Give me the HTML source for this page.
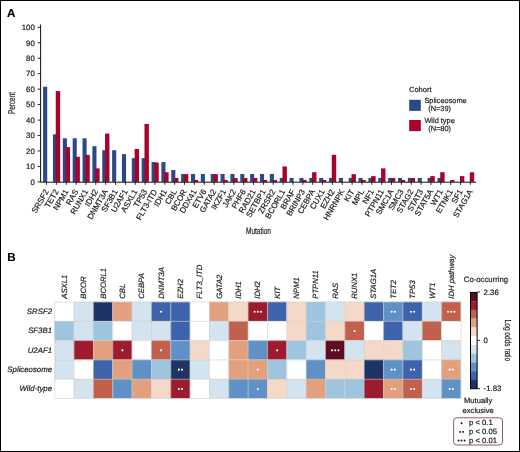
<!DOCTYPE html>
<html><head><meta charset="utf-8"><style>
html,body{margin:0;padding:0;background:#fff;}
svg{display:block;font-family:"Liberation Sans", sans-serif;will-change:transform;text-rendering:geometricPrecision;}
text{fill:#222;stroke:#222;stroke-width:0.2px;}
</style></head><body>
<svg width="520" height="452" viewBox="0 0 520 452">
<rect x="0.5" y="0.5" width="519" height="451" fill="#fff" stroke="#000" stroke-width="1"/>
<text x="7.0" y="16.5" font-size="11.6" font-weight="bold" style="fill:#000;stroke:#000;stroke-width:0.15px">A</text>
<rect x="43.10" y="86.76" width="4.1" height="95.14" fill="#2b4a84"/>
<rect x="52.96" y="134.33" width="4.1" height="47.57" fill="#2b4a84"/>
<rect x="55.76" y="91.07" width="4.4" height="90.83" fill="#a6022c"/>
<rect x="62.82" y="138.29" width="4.1" height="43.61" fill="#2b4a84"/>
<rect x="65.62" y="147.12" width="4.4" height="34.78" fill="#a6022c"/>
<rect x="72.67" y="138.29" width="4.1" height="43.61" fill="#2b4a84"/>
<rect x="75.47" y="156.78" width="4.4" height="25.12" fill="#a6022c"/>
<rect x="82.53" y="138.29" width="4.1" height="43.61" fill="#2b4a84"/>
<rect x="85.33" y="154.84" width="4.4" height="27.06" fill="#a6022c"/>
<rect x="92.39" y="146.22" width="4.1" height="35.68" fill="#2b4a84"/>
<rect x="95.19" y="168.37" width="4.4" height="13.53" fill="#a6022c"/>
<rect x="102.25" y="150.19" width="4.1" height="31.71" fill="#2b4a84"/>
<rect x="105.05" y="133.59" width="4.4" height="48.31" fill="#a6022c"/>
<rect x="112.11" y="150.19" width="4.1" height="31.71" fill="#2b4a84"/>
<rect x="121.96" y="154.15" width="4.1" height="27.75" fill="#2b4a84"/>
<rect x="131.82" y="158.12" width="4.1" height="23.78" fill="#2b4a84"/>
<rect x="134.62" y="149.05" width="4.4" height="32.85" fill="#a6022c"/>
<rect x="141.68" y="158.12" width="4.1" height="23.78" fill="#2b4a84"/>
<rect x="144.48" y="123.93" width="4.4" height="57.97" fill="#a6022c"/>
<rect x="151.54" y="162.08" width="4.1" height="19.82" fill="#2b4a84"/>
<rect x="154.34" y="162.58" width="4.4" height="19.32" fill="#a6022c"/>
<rect x="161.40" y="162.08" width="4.1" height="19.82" fill="#2b4a84"/>
<rect x="164.20" y="172.24" width="4.4" height="9.66" fill="#a6022c"/>
<rect x="171.25" y="170.01" width="4.1" height="11.89" fill="#2b4a84"/>
<rect x="174.05" y="178.03" width="4.4" height="3.87" fill="#a6022c"/>
<rect x="181.11" y="173.97" width="4.1" height="7.93" fill="#2b4a84"/>
<rect x="183.91" y="174.17" width="4.4" height="7.73" fill="#a6022c"/>
<rect x="190.97" y="173.97" width="4.1" height="7.93" fill="#2b4a84"/>
<rect x="193.77" y="179.97" width="4.4" height="1.93" fill="#a6022c"/>
<rect x="200.83" y="173.97" width="4.1" height="7.93" fill="#2b4a84"/>
<rect x="210.69" y="173.97" width="4.1" height="7.93" fill="#2b4a84"/>
<rect x="213.49" y="174.17" width="4.4" height="7.73" fill="#a6022c"/>
<rect x="220.54" y="173.97" width="4.1" height="7.93" fill="#2b4a84"/>
<rect x="223.34" y="179.97" width="4.4" height="1.93" fill="#a6022c"/>
<rect x="230.40" y="173.97" width="4.1" height="7.93" fill="#2b4a84"/>
<rect x="233.20" y="178.03" width="4.4" height="3.87" fill="#a6022c"/>
<rect x="240.26" y="173.97" width="4.1" height="7.93" fill="#2b4a84"/>
<rect x="243.06" y="178.03" width="4.4" height="3.87" fill="#a6022c"/>
<rect x="250.12" y="173.97" width="4.1" height="7.93" fill="#2b4a84"/>
<rect x="252.92" y="178.03" width="4.4" height="3.87" fill="#a6022c"/>
<rect x="259.98" y="173.97" width="4.1" height="7.93" fill="#2b4a84"/>
<rect x="262.78" y="179.97" width="4.4" height="1.93" fill="#a6022c"/>
<rect x="269.83" y="173.97" width="4.1" height="7.93" fill="#2b4a84"/>
<rect x="272.63" y="179.97" width="4.4" height="1.93" fill="#a6022c"/>
<rect x="279.69" y="177.94" width="4.1" height="3.96" fill="#2b4a84"/>
<rect x="282.49" y="166.44" width="4.4" height="15.46" fill="#a6022c"/>
<rect x="289.55" y="177.94" width="4.1" height="3.96" fill="#2b4a84"/>
<rect x="299.41" y="177.94" width="4.1" height="3.96" fill="#2b4a84"/>
<rect x="302.21" y="179.97" width="4.4" height="1.93" fill="#a6022c"/>
<rect x="309.27" y="177.94" width="4.1" height="3.96" fill="#2b4a84"/>
<rect x="312.07" y="172.24" width="4.4" height="9.66" fill="#a6022c"/>
<rect x="319.12" y="177.94" width="4.1" height="3.96" fill="#2b4a84"/>
<rect x="321.92" y="179.97" width="4.4" height="1.93" fill="#a6022c"/>
<rect x="328.98" y="177.94" width="4.1" height="3.96" fill="#2b4a84"/>
<rect x="331.78" y="154.84" width="4.4" height="27.06" fill="#a6022c"/>
<rect x="338.84" y="177.94" width="4.1" height="3.96" fill="#2b4a84"/>
<rect x="348.70" y="177.94" width="4.1" height="3.96" fill="#2b4a84"/>
<rect x="351.50" y="174.17" width="4.4" height="7.73" fill="#a6022c"/>
<rect x="358.56" y="177.94" width="4.1" height="3.96" fill="#2b4a84"/>
<rect x="361.36" y="179.97" width="4.4" height="1.93" fill="#a6022c"/>
<rect x="368.41" y="177.94" width="4.1" height="3.96" fill="#2b4a84"/>
<rect x="371.21" y="176.10" width="4.4" height="5.80" fill="#a6022c"/>
<rect x="378.27" y="177.94" width="4.1" height="3.96" fill="#2b4a84"/>
<rect x="381.07" y="168.37" width="4.4" height="13.53" fill="#a6022c"/>
<rect x="388.13" y="177.94" width="4.1" height="3.96" fill="#2b4a84"/>
<rect x="390.93" y="178.03" width="4.4" height="3.87" fill="#a6022c"/>
<rect x="397.99" y="177.94" width="4.1" height="3.96" fill="#2b4a84"/>
<rect x="400.79" y="179.97" width="4.4" height="1.93" fill="#a6022c"/>
<rect x="407.85" y="177.94" width="4.1" height="3.96" fill="#2b4a84"/>
<rect x="410.65" y="178.03" width="4.4" height="3.87" fill="#a6022c"/>
<rect x="417.70" y="177.94" width="4.1" height="3.96" fill="#2b4a84"/>
<rect x="427.56" y="177.94" width="4.1" height="3.96" fill="#2b4a84"/>
<rect x="430.36" y="176.10" width="4.4" height="5.80" fill="#a6022c"/>
<rect x="437.42" y="177.94" width="4.1" height="3.96" fill="#2b4a84"/>
<rect x="440.22" y="172.24" width="4.4" height="9.66" fill="#a6022c"/>
<rect x="450.08" y="179.97" width="4.4" height="1.93" fill="#a6022c"/>
<rect x="459.94" y="176.10" width="4.4" height="5.80" fill="#a6022c"/>
<rect x="469.79" y="172.24" width="4.4" height="9.66" fill="#a6022c"/>
<path d="M40.6 24.5V182.2H476.2" fill="none" stroke="#111" stroke-width="1"/>
<path d="M37.6 181.90H40.6" stroke="#111" stroke-width="0.9"/>
<text x="34.8" y="184.70" font-size="7.8" text-anchor="end" fill="#222">0</text>
<path d="M37.6 166.44H40.6" stroke="#111" stroke-width="0.9"/>
<text x="34.8" y="169.24" font-size="7.8" text-anchor="end" fill="#222">10</text>
<path d="M37.6 150.98H40.6" stroke="#111" stroke-width="0.9"/>
<text x="34.8" y="153.78" font-size="7.8" text-anchor="end" fill="#222">20</text>
<path d="M37.6 135.52H40.6" stroke="#111" stroke-width="0.9"/>
<text x="34.8" y="138.32" font-size="7.8" text-anchor="end" fill="#222">30</text>
<path d="M37.6 120.06H40.6" stroke="#111" stroke-width="0.9"/>
<text x="34.8" y="122.86" font-size="7.8" text-anchor="end" fill="#222">40</text>
<path d="M37.6 104.60H40.6" stroke="#111" stroke-width="0.9"/>
<text x="34.8" y="107.40" font-size="7.8" text-anchor="end" fill="#222">50</text>
<path d="M37.6 89.14H40.6" stroke="#111" stroke-width="0.9"/>
<text x="34.8" y="91.94" font-size="7.8" text-anchor="end" fill="#222">60</text>
<path d="M37.6 73.68H40.6" stroke="#111" stroke-width="0.9"/>
<text x="34.8" y="76.48" font-size="7.8" text-anchor="end" fill="#222">70</text>
<path d="M37.6 58.22H40.6" stroke="#111" stroke-width="0.9"/>
<text x="34.8" y="61.02" font-size="7.8" text-anchor="end" fill="#222">80</text>
<path d="M37.6 42.76H40.6" stroke="#111" stroke-width="0.9"/>
<text x="34.8" y="45.56" font-size="7.8" text-anchor="end" fill="#222">90</text>
<path d="M37.6 27.30H40.6" stroke="#111" stroke-width="0.9"/>
<text x="34.8" y="30.10" font-size="7.8" text-anchor="end" fill="#222">100</text>
<path d="M46.50 181.9V184.8" stroke="#111" stroke-width="0.9"/>
<text transform="translate(49.00 191.5) rotate(-60)" font-size="8.0" text-anchor="end" fill="#222">SRSF2</text>
<path d="M56.36 181.9V184.8" stroke="#111" stroke-width="0.9"/>
<text transform="translate(58.86 191.5) rotate(-60)" font-size="8.0" text-anchor="end" fill="#222">TET2</text>
<path d="M66.22 181.9V184.8" stroke="#111" stroke-width="0.9"/>
<text transform="translate(68.72 191.5) rotate(-60)" font-size="8.0" text-anchor="end" fill="#222">NPM1</text>
<path d="M76.07 181.9V184.8" stroke="#111" stroke-width="0.9"/>
<text transform="translate(78.57 191.5) rotate(-60)" font-size="8.0" text-anchor="end" fill="#222">RAS</text>
<path d="M85.93 181.9V184.8" stroke="#111" stroke-width="0.9"/>
<text transform="translate(88.43 191.5) rotate(-60)" font-size="8.0" text-anchor="end" fill="#222">RUNX1</text>
<path d="M95.79 181.9V184.8" stroke="#111" stroke-width="0.9"/>
<text transform="translate(98.29 191.5) rotate(-60)" font-size="8.0" text-anchor="end" fill="#222">IDH2</text>
<path d="M105.65 181.9V184.8" stroke="#111" stroke-width="0.9"/>
<text transform="translate(108.15 191.5) rotate(-60)" font-size="8.0" text-anchor="end" fill="#222">DNMT3A</text>
<path d="M115.51 181.9V184.8" stroke="#111" stroke-width="0.9"/>
<text transform="translate(118.01 191.5) rotate(-60)" font-size="8.0" text-anchor="end" fill="#222">SF3B1</text>
<path d="M125.36 181.9V184.8" stroke="#111" stroke-width="0.9"/>
<text transform="translate(127.86 191.5) rotate(-60)" font-size="8.0" text-anchor="end" fill="#222">U2AF1</text>
<path d="M135.22 181.9V184.8" stroke="#111" stroke-width="0.9"/>
<text transform="translate(137.72 191.5) rotate(-60)" font-size="8.0" text-anchor="end" fill="#222">ASXL1</text>
<path d="M145.08 181.9V184.8" stroke="#111" stroke-width="0.9"/>
<text transform="translate(147.58 191.5) rotate(-60)" font-size="8.0" text-anchor="end" fill="#222">TP53</text>
<path d="M154.94 181.9V184.8" stroke="#111" stroke-width="0.9"/>
<text transform="translate(157.44 191.5) rotate(-60)" font-size="8.0" text-anchor="end" fill="#222">FLT3-ITD</text>
<path d="M164.80 181.9V184.8" stroke="#111" stroke-width="0.9"/>
<text transform="translate(167.30 191.5) rotate(-60)" font-size="8.0" text-anchor="end" fill="#222">IDH1</text>
<path d="M174.65 181.9V184.8" stroke="#111" stroke-width="0.9"/>
<text transform="translate(177.15 191.5) rotate(-60)" font-size="8.0" text-anchor="end" fill="#222">CBL</text>
<path d="M184.51 181.9V184.8" stroke="#111" stroke-width="0.9"/>
<text transform="translate(187.01 191.5) rotate(-60)" font-size="8.0" text-anchor="end" fill="#222">BCOR</text>
<path d="M194.37 181.9V184.8" stroke="#111" stroke-width="0.9"/>
<text transform="translate(196.87 191.5) rotate(-60)" font-size="8.0" text-anchor="end" fill="#222">DDX41</text>
<path d="M204.23 181.9V184.8" stroke="#111" stroke-width="0.9"/>
<text transform="translate(206.73 191.5) rotate(-60)" font-size="8.0" text-anchor="end" fill="#222">ETV6</text>
<path d="M214.09 181.9V184.8" stroke="#111" stroke-width="0.9"/>
<text transform="translate(216.59 191.5) rotate(-60)" font-size="8.0" text-anchor="end" fill="#222">GATA2</text>
<path d="M223.94 181.9V184.8" stroke="#111" stroke-width="0.9"/>
<text transform="translate(226.44 191.5) rotate(-60)" font-size="8.0" text-anchor="end" fill="#222">IKZF1</text>
<path d="M233.80 181.9V184.8" stroke="#111" stroke-width="0.9"/>
<text transform="translate(236.30 191.5) rotate(-60)" font-size="8.0" text-anchor="end" fill="#222">JAK2</text>
<path d="M243.66 181.9V184.8" stroke="#111" stroke-width="0.9"/>
<text transform="translate(246.16 191.5) rotate(-60)" font-size="8.0" text-anchor="end" fill="#222">PHF6</text>
<path d="M253.52 181.9V184.8" stroke="#111" stroke-width="0.9"/>
<text transform="translate(256.02 191.5) rotate(-60)" font-size="8.0" text-anchor="end" fill="#222">RAD21</text>
<path d="M263.38 181.9V184.8" stroke="#111" stroke-width="0.9"/>
<text transform="translate(265.88 191.5) rotate(-60)" font-size="8.0" text-anchor="end" fill="#222">SETBP1</text>
<path d="M273.23 181.9V184.8" stroke="#111" stroke-width="0.9"/>
<text transform="translate(275.73 191.5) rotate(-60)" font-size="8.0" text-anchor="end" fill="#222">ZRSR2</text>
<path d="M283.09 181.9V184.8" stroke="#111" stroke-width="0.9"/>
<text transform="translate(285.59 191.5) rotate(-60)" font-size="8.0" text-anchor="end" fill="#222">BCORL1</text>
<path d="M292.95 181.9V184.8" stroke="#111" stroke-width="0.9"/>
<text transform="translate(295.45 191.5) rotate(-60)" font-size="8.0" text-anchor="end" fill="#222">BRAF</text>
<path d="M302.81 181.9V184.8" stroke="#111" stroke-width="0.9"/>
<text transform="translate(305.31 191.5) rotate(-60)" font-size="8.0" text-anchor="end" fill="#222">BRINP3</text>
<path d="M312.67 181.9V184.8" stroke="#111" stroke-width="0.9"/>
<text transform="translate(315.17 191.5) rotate(-60)" font-size="8.0" text-anchor="end" fill="#222">CEBPA</text>
<path d="M322.52 181.9V184.8" stroke="#111" stroke-width="0.9"/>
<text transform="translate(325.02 191.5) rotate(-60)" font-size="8.0" text-anchor="end" fill="#222">CUX1</text>
<path d="M332.38 181.9V184.8" stroke="#111" stroke-width="0.9"/>
<text transform="translate(334.88 191.5) rotate(-60)" font-size="8.0" text-anchor="end" fill="#222">EZH2</text>
<path d="M342.24 181.9V184.8" stroke="#111" stroke-width="0.9"/>
<text transform="translate(344.74 191.5) rotate(-60)" font-size="8.0" text-anchor="end" fill="#222">HNRNPK</text>
<path d="M352.10 181.9V184.8" stroke="#111" stroke-width="0.9"/>
<text transform="translate(354.60 191.5) rotate(-60)" font-size="8.0" text-anchor="end" fill="#222">KIT</text>
<path d="M361.96 181.9V184.8" stroke="#111" stroke-width="0.9"/>
<text transform="translate(364.46 191.5) rotate(-60)" font-size="8.0" text-anchor="end" fill="#222">MPL</text>
<path d="M371.81 181.9V184.8" stroke="#111" stroke-width="0.9"/>
<text transform="translate(374.31 191.5) rotate(-60)" font-size="8.0" text-anchor="end" fill="#222">NF1</text>
<path d="M381.67 181.9V184.8" stroke="#111" stroke-width="0.9"/>
<text transform="translate(384.17 191.5) rotate(-60)" font-size="8.0" text-anchor="end" fill="#222">PTPN11</text>
<path d="M391.53 181.9V184.8" stroke="#111" stroke-width="0.9"/>
<text transform="translate(394.03 191.5) rotate(-60)" font-size="8.0" text-anchor="end" fill="#222">SMC1A</text>
<path d="M401.39 181.9V184.8" stroke="#111" stroke-width="0.9"/>
<text transform="translate(403.89 191.5) rotate(-60)" font-size="8.0" text-anchor="end" fill="#222">SMC3</text>
<path d="M411.25 181.9V184.8" stroke="#111" stroke-width="0.9"/>
<text transform="translate(413.75 191.5) rotate(-60)" font-size="8.0" text-anchor="end" fill="#222">STAG2</text>
<path d="M421.10 181.9V184.8" stroke="#111" stroke-width="0.9"/>
<text transform="translate(423.60 191.5) rotate(-60)" font-size="8.0" text-anchor="end" fill="#222">STAT3</text>
<path d="M430.96 181.9V184.8" stroke="#111" stroke-width="0.9"/>
<text transform="translate(433.46 191.5) rotate(-60)" font-size="8.0" text-anchor="end" fill="#222">STAT5A</text>
<path d="M440.82 181.9V184.8" stroke="#111" stroke-width="0.9"/>
<text transform="translate(443.32 191.5) rotate(-60)" font-size="8.0" text-anchor="end" fill="#222">WT1</text>
<path d="M450.68 181.9V184.8" stroke="#111" stroke-width="0.9"/>
<text transform="translate(453.18 191.5) rotate(-60)" font-size="8.0" text-anchor="end" fill="#222">ETNK1</text>
<path d="M460.54 181.9V184.8" stroke="#111" stroke-width="0.9"/>
<text transform="translate(463.04 191.5) rotate(-60)" font-size="8.0" text-anchor="end" fill="#222">SF1</text>
<path d="M470.39 181.9V184.8" stroke="#111" stroke-width="0.9"/>
<text transform="translate(472.89 191.5) rotate(-60)" font-size="8.0" text-anchor="end" fill="#222">STAG1A</text>
<text transform="translate(15.4 103) rotate(-90) scale(0.65 1)" font-size="9.8" text-anchor="middle" fill="#222">Percent</text>
<text transform="translate(258.5 233.7) scale(0.7 1)" font-size="9.3" text-anchor="middle" fill="#222">Mutation</text>
<text x="409.0" y="91.8" font-size="7.5" fill="#222">Cohort</text>
<rect x="409.2" y="99.8" width="11.6" height="11.1" fill="#2b4a84"/>
<rect x="409.2" y="120" width="11.6" height="11.1" fill="#a6022c"/>
<text x="424.4" y="102.8" font-size="7.4" fill="#222">Spliceosome</text>
<text x="428.2" y="111.1" font-size="7.4" fill="#222">(N=39)</text>
<text x="424.4" y="122.8" font-size="7.4" fill="#222">Wild type</text>
<text x="428.2" y="131.1" font-size="7.4" fill="#222">(N=80)</text>
<text x="7.2" y="261.4" font-size="11.6" font-weight="bold" style="fill:#000;stroke:#000;stroke-width:0.15px">B</text>
<rect x="54.50" y="301.80" width="19.34" height="19.30" fill="#ffffff"/>
<rect x="73.84" y="301.80" width="19.34" height="19.30" fill="#d3e3ef"/>
<rect x="93.19" y="301.80" width="19.34" height="19.30" fill="#1f3366"/>
<rect x="112.53" y="301.80" width="19.34" height="19.30" fill="#e3a07f"/>
<rect x="131.88" y="301.80" width="19.34" height="19.30" fill="#d3e3ef"/>
<rect x="151.22" y="301.80" width="19.34" height="19.30" fill="#3d63ad"/>
<circle cx="161.10" cy="311.75" r="1.05" fill="#fff"/>
<rect x="170.57" y="301.80" width="19.34" height="19.30" fill="#3d63ad"/>
<rect x="189.91" y="301.80" width="19.34" height="19.30" fill="#ffffff"/>
<rect x="209.26" y="301.80" width="19.34" height="19.30" fill="#e3a07f"/>
<rect x="228.60" y="301.80" width="19.34" height="19.30" fill="#f5d9c8"/>
<rect x="247.95" y="301.80" width="19.34" height="19.30" fill="#9e1a2e"/>
<circle cx="254.62" cy="311.75" r="1.05" fill="#fff"/>
<circle cx="257.82" cy="311.75" r="1.05" fill="#fff"/>
<circle cx="261.02" cy="311.75" r="1.05" fill="#fff"/>
<rect x="267.29" y="301.80" width="19.34" height="19.30" fill="#3d63ad"/>
<rect x="286.64" y="301.80" width="19.34" height="19.30" fill="#f5d9c8"/>
<rect x="305.99" y="301.80" width="19.34" height="19.30" fill="#9fc4de"/>
<rect x="325.33" y="301.80" width="19.34" height="19.30" fill="#d3e3ef"/>
<rect x="344.67" y="301.80" width="19.34" height="19.30" fill="#f5d9c8"/>
<rect x="364.02" y="301.80" width="19.34" height="19.30" fill="#3d63ad"/>
<rect x="383.37" y="301.80" width="19.34" height="19.30" fill="#5f91c6"/>
<circle cx="391.64" cy="311.75" r="1.05" fill="#fff"/>
<circle cx="394.84" cy="311.75" r="1.05" fill="#fff"/>
<rect x="402.71" y="301.80" width="19.34" height="19.30" fill="#3d63ad"/>
<circle cx="410.98" cy="311.75" r="1.05" fill="#fff"/>
<circle cx="414.18" cy="311.75" r="1.05" fill="#fff"/>
<rect x="422.05" y="301.80" width="19.34" height="19.30" fill="#d3e3ef"/>
<rect x="441.40" y="301.80" width="19.34" height="19.30" fill="#c2604e"/>
<circle cx="448.07" cy="311.75" r="1.05" fill="#fff"/>
<circle cx="451.27" cy="311.75" r="1.05" fill="#fff"/>
<circle cx="454.47" cy="311.75" r="1.05" fill="#fff"/>
<rect x="54.50" y="321.10" width="19.34" height="19.30" fill="#9fc4de"/>
<rect x="73.84" y="321.10" width="19.34" height="19.30" fill="#d3e3ef"/>
<rect x="93.19" y="321.10" width="19.34" height="19.30" fill="#9fc4de"/>
<rect x="112.53" y="321.10" width="19.34" height="19.30" fill="#ffffff"/>
<rect x="131.88" y="321.10" width="19.34" height="19.30" fill="#d3e3ef"/>
<rect x="151.22" y="321.10" width="19.34" height="19.30" fill="#d3e3ef"/>
<rect x="170.57" y="321.10" width="19.34" height="19.30" fill="#3d63ad"/>
<rect x="189.91" y="321.10" width="19.34" height="19.30" fill="#ffffff"/>
<rect x="209.26" y="321.10" width="19.34" height="19.30" fill="#d3e3ef"/>
<rect x="228.60" y="321.10" width="19.34" height="19.30" fill="#c2604e"/>
<rect x="247.95" y="321.10" width="19.34" height="19.30" fill="#ffffff"/>
<rect x="267.29" y="321.10" width="19.34" height="19.30" fill="#ffffff"/>
<rect x="286.64" y="321.10" width="19.34" height="19.30" fill="#f5d9c8"/>
<rect x="305.99" y="321.10" width="19.34" height="19.30" fill="#9fc4de"/>
<rect x="325.33" y="321.10" width="19.34" height="19.30" fill="#f5d9c8"/>
<rect x="344.67" y="321.10" width="19.34" height="19.30" fill="#c2604e"/>
<circle cx="354.55" cy="331.05" r="1.05" fill="#fff"/>
<rect x="364.02" y="321.10" width="19.34" height="19.30" fill="#ffffff"/>
<rect x="383.37" y="321.10" width="19.34" height="19.30" fill="#3d63ad"/>
<rect x="402.71" y="321.10" width="19.34" height="19.30" fill="#d3e3ef"/>
<rect x="422.05" y="321.10" width="19.34" height="19.30" fill="#c2604e"/>
<rect x="441.40" y="321.10" width="19.34" height="19.30" fill="#ffffff"/>
<rect x="54.50" y="340.40" width="19.34" height="19.30" fill="#d3e3ef"/>
<rect x="73.84" y="340.40" width="19.34" height="19.30" fill="#9e1a2e"/>
<rect x="93.19" y="340.40" width="19.34" height="19.30" fill="#e3a07f"/>
<rect x="112.53" y="340.40" width="19.34" height="19.30" fill="#9e1a2e"/>
<circle cx="122.41" cy="350.35" r="1.05" fill="#fff"/>
<rect x="131.88" y="340.40" width="19.34" height="19.30" fill="#ffffff"/>
<rect x="151.22" y="340.40" width="19.34" height="19.30" fill="#c2604e"/>
<circle cx="161.10" cy="350.35" r="1.05" fill="#fff"/>
<rect x="170.57" y="340.40" width="19.34" height="19.30" fill="#5f91c6"/>
<rect x="189.91" y="340.40" width="19.34" height="19.30" fill="#f5d9c8"/>
<rect x="209.26" y="340.40" width="19.34" height="19.30" fill="#ffffff"/>
<rect x="228.60" y="340.40" width="19.34" height="19.30" fill="#e3a07f"/>
<rect x="247.95" y="340.40" width="19.34" height="19.30" fill="#5f91c6"/>
<rect x="267.29" y="340.40" width="19.34" height="19.30" fill="#9e1a2e"/>
<circle cx="277.17" cy="350.35" r="1.05" fill="#fff"/>
<rect x="286.64" y="340.40" width="19.34" height="19.30" fill="#9fc4de"/>
<rect x="305.99" y="340.40" width="19.34" height="19.30" fill="#d3e3ef"/>
<rect x="325.33" y="340.40" width="19.34" height="19.30" fill="#5e0a1f"/>
<circle cx="332.00" cy="350.35" r="1.05" fill="#fff"/>
<circle cx="335.20" cy="350.35" r="1.05" fill="#fff"/>
<circle cx="338.40" cy="350.35" r="1.05" fill="#fff"/>
<rect x="344.67" y="340.40" width="19.34" height="19.30" fill="#d3e3ef"/>
<rect x="364.02" y="340.40" width="19.34" height="19.30" fill="#f5d9c8"/>
<rect x="383.37" y="340.40" width="19.34" height="19.30" fill="#f5d9c8"/>
<rect x="402.71" y="340.40" width="19.34" height="19.30" fill="#9fc4de"/>
<rect x="422.05" y="340.40" width="19.34" height="19.30" fill="#ffffff"/>
<rect x="441.40" y="340.40" width="19.34" height="19.30" fill="#d3e3ef"/>
<rect x="54.50" y="359.70" width="19.34" height="19.30" fill="#d3e3ef"/>
<rect x="73.84" y="359.70" width="19.34" height="19.30" fill="#ffffff"/>
<rect x="93.19" y="359.70" width="19.34" height="19.30" fill="#3d63ad"/>
<rect x="112.53" y="359.70" width="19.34" height="19.30" fill="#e3a07f"/>
<rect x="131.88" y="359.70" width="19.34" height="19.30" fill="#5f91c6"/>
<rect x="151.22" y="359.70" width="19.34" height="19.30" fill="#9fc4de"/>
<rect x="170.57" y="359.70" width="19.34" height="19.30" fill="#1f3366"/>
<circle cx="178.84" cy="369.65" r="1.05" fill="#fff"/>
<circle cx="182.04" cy="369.65" r="1.05" fill="#fff"/>
<rect x="189.91" y="359.70" width="19.34" height="19.30" fill="#d3e3ef"/>
<rect x="209.26" y="359.70" width="19.34" height="19.30" fill="#ffffff"/>
<rect x="228.60" y="359.70" width="19.34" height="19.30" fill="#e3a07f"/>
<rect x="247.95" y="359.70" width="19.34" height="19.30" fill="#e3a07f"/>
<circle cx="257.82" cy="369.65" r="1.05" fill="#fff"/>
<rect x="267.29" y="359.70" width="19.34" height="19.30" fill="#9fc4de"/>
<rect x="286.64" y="359.70" width="19.34" height="19.30" fill="#ffffff"/>
<rect x="305.99" y="359.70" width="19.34" height="19.30" fill="#5f91c6"/>
<rect x="325.33" y="359.70" width="19.34" height="19.30" fill="#f5d9c8"/>
<rect x="344.67" y="359.70" width="19.34" height="19.30" fill="#f5d9c8"/>
<rect x="364.02" y="359.70" width="19.34" height="19.30" fill="#1f3366"/>
<rect x="383.37" y="359.70" width="19.34" height="19.30" fill="#5f91c6"/>
<circle cx="391.64" cy="369.65" r="1.05" fill="#fff"/>
<circle cx="394.84" cy="369.65" r="1.05" fill="#fff"/>
<rect x="402.71" y="359.70" width="19.34" height="19.30" fill="#3d63ad"/>
<circle cx="410.98" cy="369.65" r="1.05" fill="#fff"/>
<circle cx="414.18" cy="369.65" r="1.05" fill="#fff"/>
<rect x="422.05" y="359.70" width="19.34" height="19.30" fill="#ffffff"/>
<rect x="441.40" y="359.70" width="19.34" height="19.30" fill="#e3a07f"/>
<circle cx="449.67" cy="369.65" r="1.05" fill="#fff"/>
<circle cx="452.87" cy="369.65" r="1.05" fill="#fff"/>
<rect x="54.50" y="379.00" width="19.34" height="19.30" fill="#ffffff"/>
<rect x="73.84" y="379.00" width="19.34" height="19.30" fill="#d3e3ef"/>
<rect x="93.19" y="379.00" width="19.34" height="19.30" fill="#c2604e"/>
<rect x="112.53" y="379.00" width="19.34" height="19.30" fill="#5f91c6"/>
<rect x="131.88" y="379.00" width="19.34" height="19.30" fill="#e3a07f"/>
<rect x="151.22" y="379.00" width="19.34" height="19.30" fill="#f5d9c8"/>
<rect x="170.57" y="379.00" width="19.34" height="19.30" fill="#9e1a2e"/>
<circle cx="178.84" cy="388.95" r="1.05" fill="#fff"/>
<circle cx="182.04" cy="388.95" r="1.05" fill="#fff"/>
<rect x="189.91" y="379.00" width="19.34" height="19.30" fill="#ffffff"/>
<rect x="209.26" y="379.00" width="19.34" height="19.30" fill="#d3e3ef"/>
<rect x="228.60" y="379.00" width="19.34" height="19.30" fill="#5f91c6"/>
<rect x="247.95" y="379.00" width="19.34" height="19.30" fill="#5f91c6"/>
<circle cx="257.82" cy="388.95" r="1.05" fill="#fff"/>
<rect x="267.29" y="379.00" width="19.34" height="19.30" fill="#f5d9c8"/>
<rect x="286.64" y="379.00" width="19.34" height="19.30" fill="#d3e3ef"/>
<rect x="305.99" y="379.00" width="19.34" height="19.30" fill="#e3a07f"/>
<rect x="325.33" y="379.00" width="19.34" height="19.30" fill="#9fc4de"/>
<rect x="344.67" y="379.00" width="19.34" height="19.30" fill="#9fc4de"/>
<rect x="364.02" y="379.00" width="19.34" height="19.30" fill="#9e1a2e"/>
<rect x="383.37" y="379.00" width="19.34" height="19.30" fill="#e3a07f"/>
<circle cx="391.64" cy="388.95" r="1.05" fill="#fff"/>
<circle cx="394.84" cy="388.95" r="1.05" fill="#fff"/>
<rect x="402.71" y="379.00" width="19.34" height="19.30" fill="#c2604e"/>
<circle cx="410.98" cy="388.95" r="1.05" fill="#fff"/>
<circle cx="414.18" cy="388.95" r="1.05" fill="#fff"/>
<rect x="422.05" y="379.00" width="19.34" height="19.30" fill="#d3e3ef"/>
<rect x="441.40" y="379.00" width="19.34" height="19.30" fill="#5f91c6"/>
<circle cx="449.67" cy="388.95" r="1.05" fill="#fff"/>
<circle cx="452.87" cy="388.95" r="1.05" fill="#fff"/>
<path d="M54.75 301.80V398.60M74.09 301.80V398.60M93.44 301.80V398.60M112.78 301.80V398.60M132.13 301.80V398.60M151.47 301.80V398.60M170.82 301.80V398.60M190.16 301.80V398.60M209.51 301.80V398.60M228.85 301.80V398.60M248.20 301.80V398.60M267.54 301.80V398.60M286.89 301.80V398.60M306.24 301.80V398.60M325.58 301.80V398.60M344.92 301.80V398.60M364.27 301.80V398.60M383.62 301.80V398.60M402.96 301.80V398.60M422.30 301.80V398.60M441.65 301.80V398.60M461.00 301.80V398.60M54.50 302.05H461.05M54.50 321.35H461.05M54.50 340.65H461.05M54.50 359.95H461.05M54.50 379.25H461.05M54.50 398.55H461.05" fill="none" stroke="#cdcdcd" stroke-width="0.6"/>
<text transform="translate(66.97 298.7) rotate(-90)" font-size="7.7" font-style="italic" fill="#222">ASXL1</text>
<text transform="translate(86.32 298.7) rotate(-90)" font-size="7.7" font-style="italic" fill="#222">BCOR</text>
<text transform="translate(105.66 298.7) rotate(-90)" font-size="7.7" font-style="italic" fill="#222">BCORL1</text>
<text transform="translate(125.01 298.7) rotate(-90)" font-size="7.7" font-style="italic" fill="#222">CBL</text>
<text transform="translate(144.35 298.7) rotate(-90)" font-size="7.7" font-style="italic" fill="#222">CEBPA</text>
<text transform="translate(163.70 298.7) rotate(-90)" font-size="7.7" font-style="italic" fill="#222">DNMT3A</text>
<text transform="translate(183.04 298.7) rotate(-90)" font-size="7.7" font-style="italic" fill="#222">EZH2</text>
<text transform="translate(202.39 298.7) rotate(-90)" font-size="7.7" font-style="italic" fill="#222">FLT3_ITD</text>
<text transform="translate(221.73 298.7) rotate(-90)" font-size="7.7" font-style="italic" fill="#222">GATA2</text>
<text transform="translate(241.08 298.7) rotate(-90)" font-size="7.7" font-style="italic" fill="#222">IDH1</text>
<text transform="translate(260.42 298.7) rotate(-90)" font-size="7.7" font-style="italic" fill="#222">IDH2</text>
<text transform="translate(279.77 298.7) rotate(-90)" font-size="7.7" font-style="italic" fill="#222">KIT</text>
<text transform="translate(299.11 298.7) rotate(-90)" font-size="7.7" font-style="italic" fill="#222">NPM1</text>
<text transform="translate(318.46 298.7) rotate(-90)" font-size="7.7" font-style="italic" fill="#222">PTPN11</text>
<text transform="translate(337.80 298.7) rotate(-90)" font-size="7.7" font-style="italic" fill="#222">RAS</text>
<text transform="translate(357.15 298.7) rotate(-90)" font-size="7.7" font-style="italic" fill="#222">RUNX1</text>
<text transform="translate(376.49 298.7) rotate(-90)" font-size="7.7" font-style="italic" fill="#222">STAG1A</text>
<text transform="translate(395.84 298.7) rotate(-90)" font-size="7.7" font-style="italic" fill="#222">TET2</text>
<text transform="translate(415.18 298.7) rotate(-90)" font-size="7.7" font-style="italic" fill="#222">TP53</text>
<text transform="translate(434.53 298.7) rotate(-90)" font-size="7.7" font-style="italic" fill="#222">WT1</text>
<text transform="translate(453.87 298.7) rotate(-90)" font-size="7.7" font-style="italic" fill="#222">IDH pathway</text>
<text x="52" y="314.15" font-size="7.8" font-style="italic" text-anchor="end" fill="#222">SRSF2</text>
<text x="52" y="333.45" font-size="7.8" font-style="italic" text-anchor="end" fill="#222">SF3B1</text>
<text x="52" y="352.75" font-size="7.8" font-style="italic" text-anchor="end" fill="#222">U2AF1</text>
<text x="52" y="372.05" font-size="7.8" font-style="italic" text-anchor="end" fill="#222">Spliceosome</text>
<text x="52" y="391.35" font-size="7.8" font-style="italic" text-anchor="end" fill="#222">Wild-type</text>
<rect x="470.5" y="292.40" width="6.6" height="8.80" fill="#5e0a1f"/>
<rect x="470.5" y="301.15" width="6.6" height="8.80" fill="#9e1a2e"/>
<rect x="470.5" y="309.91" width="6.6" height="8.80" fill="#c2604e"/>
<rect x="470.5" y="318.66" width="6.6" height="8.80" fill="#e3a07f"/>
<rect x="470.5" y="327.42" width="6.6" height="8.80" fill="#f5d9c8"/>
<rect x="470.5" y="336.17" width="6.6" height="8.80" fill="#ffffff"/>
<rect x="470.5" y="344.93" width="6.6" height="8.80" fill="#d3e3ef"/>
<rect x="470.5" y="353.68" width="6.6" height="8.80" fill="#9fc4de"/>
<rect x="470.5" y="362.44" width="6.6" height="8.80" fill="#5f91c6"/>
<rect x="470.5" y="371.19" width="6.6" height="8.80" fill="#3d63ad"/>
<rect x="470.5" y="379.95" width="6.6" height="8.80" fill="#1f3366"/>
<rect x="470.5" y="292.40" width="6.6" height="96.30" fill="none" stroke="#000" stroke-width="1"/>
<path d="M477.3 292.0H480" stroke="#111" stroke-width="0.9"/>
<text x="483.6" y="294.5" font-size="7.8" fill="#222">2.36</text>
<path d="M477.3 340.3H480" stroke="#111" stroke-width="0.9"/>
<text x="483.6" y="342.8" font-size="7.8" fill="#222">0</text>
<path d="M477.3 388.6H480" stroke="#111" stroke-width="0.9"/>
<text x="483.6" y="391.1" font-size="7.8" fill="#222">-1.83</text>
<text x="463.8" y="282.3" font-size="7.75" fill="#222">Co-occurring</text>
<text transform="translate(504.9 340.4) rotate(90) scale(0.73 1)" font-size="9" text-anchor="middle" fill="#222">Log odds ratio</text>
<text x="478.2" y="403.1" font-size="7.6" text-anchor="middle" fill="#222">Mutually</text>
<text x="478.2" y="412.9" font-size="7.6" text-anchor="middle" fill="#222">exclusive</text>
<rect x="453.6" y="417.8" width="48.9" height="27.2" rx="3.2" fill="none" stroke="#8f5c68" stroke-width="1"/>
<circle cx="461.60" cy="423.30" r="0.95" fill="#111"/>
<text x="469" y="425.30" font-size="7.7" fill="#222">p &lt; 0.1</text>
<circle cx="460.10" cy="431.90" r="0.95" fill="#111"/>
<circle cx="463.10" cy="431.90" r="0.95" fill="#111"/>
<text x="469" y="433.90" font-size="7.7" fill="#222">p &lt; 0.05</text>
<circle cx="458.60" cy="440.50" r="0.95" fill="#111"/>
<circle cx="461.60" cy="440.50" r="0.95" fill="#111"/>
<circle cx="464.60" cy="440.50" r="0.95" fill="#111"/>
<text x="469" y="442.50" font-size="7.7" fill="#222">p &lt; 0.01</text>
</svg>
</body></html>
